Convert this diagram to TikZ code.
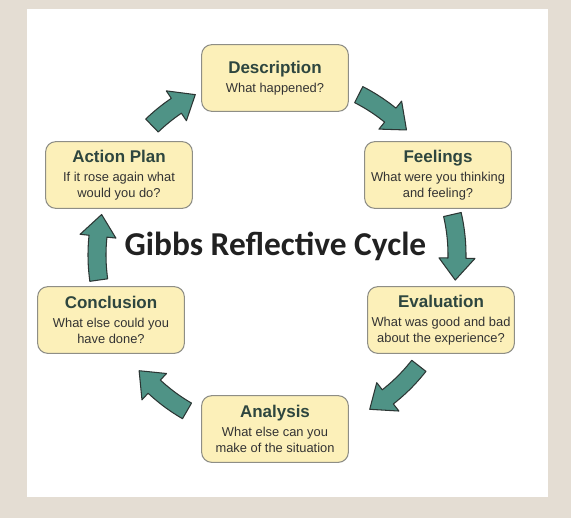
\documentclass[tikz,border=0pt]{standalone}
\usepackage{fontspec}
\setmainfont{Liberation Sans}
\newfontfamily\cyclefont{Carlito}
\usepackage{tikz}
\definecolor{paper}{HTML}{E4DDD3}
\definecolor{stagefill}{HTML}{FCF0B9}
\definecolor{stageline}{HTML}{8E8E86}
\definecolor{headink}{HTML}{2E463F}
\definecolor{subink}{HTML}{333333}
\definecolor{loopfill}{HTML}{4F9386}
\definecolor{loopline}{HTML}{2C3634}
\newcommand\stagehead[1]{{\fontsize{14.5}{17}\selectfont\bfseries\color{headink}#1}\\[3pt]}

\begin{document}
\begin{tikzpicture}[x=0.03cm,y=-0.03cm,
  stage/.style={draw=stageline,fill=stagefill,line width=0.9pt,rounded corners=0.3cm,
    minimum width=4.4cm,minimum height=2cm,align=center,inner sep=2pt,
    font=\fontsize{11}{13.5}\selectfont,text=subink},
  looparrow/.style={fill=loopfill,draw=loopline,line width=0.9pt,line join=round}]
\fill[paper] (0,0) rectangle (571,518);
\fill[white] (27,9) rectangle (548,497);
% arrows round the cycle: start angle / head start angle
\begin{scope}[shift={(277,255)}]
\foreach \sa/\ha in {-63/-51,-13/1,38/52,120/133,172/186,226/236}{
  \filldraw[looparrow] plot[domain=\sa:\ha,samples=12] (\x:171) -- ({\ha}:162)
    -- ({\ha+7}:180) -- ({\ha}:198) -- plot[domain=\ha:\sa,samples=12] (\x:189) -- cycle;
}
\end{scope}
\foreach \name/\pos/\head/\sub in {%
  desc/{275,78}/Description/{What happened?},
  feel/{438,175}/Feelings/{What were you thinking\\and feeling?},
  eval/{441,320}/Evaluation/{What was good and bad\\about the experience?},
  anal/{275,429}/Analysis/{What else can you\\make of the situation},
  concl/{111,320}/Conclusion/{What else could you\\have done?},
  act/{119,175}/Action Plan/{If it rose again what\\would you do?}}{
  \node[stage] (\name) at (\pos) {\stagehead{\head}\sub};
}
\node[anchor=base,font=\cyclefont\bfseries\fontsize{28.5}{30}\selectfont,text=black!87] (cycle) at (275.5,255) {Gibbs Reflective Cycle};
\end{tikzpicture}
\end{document}
